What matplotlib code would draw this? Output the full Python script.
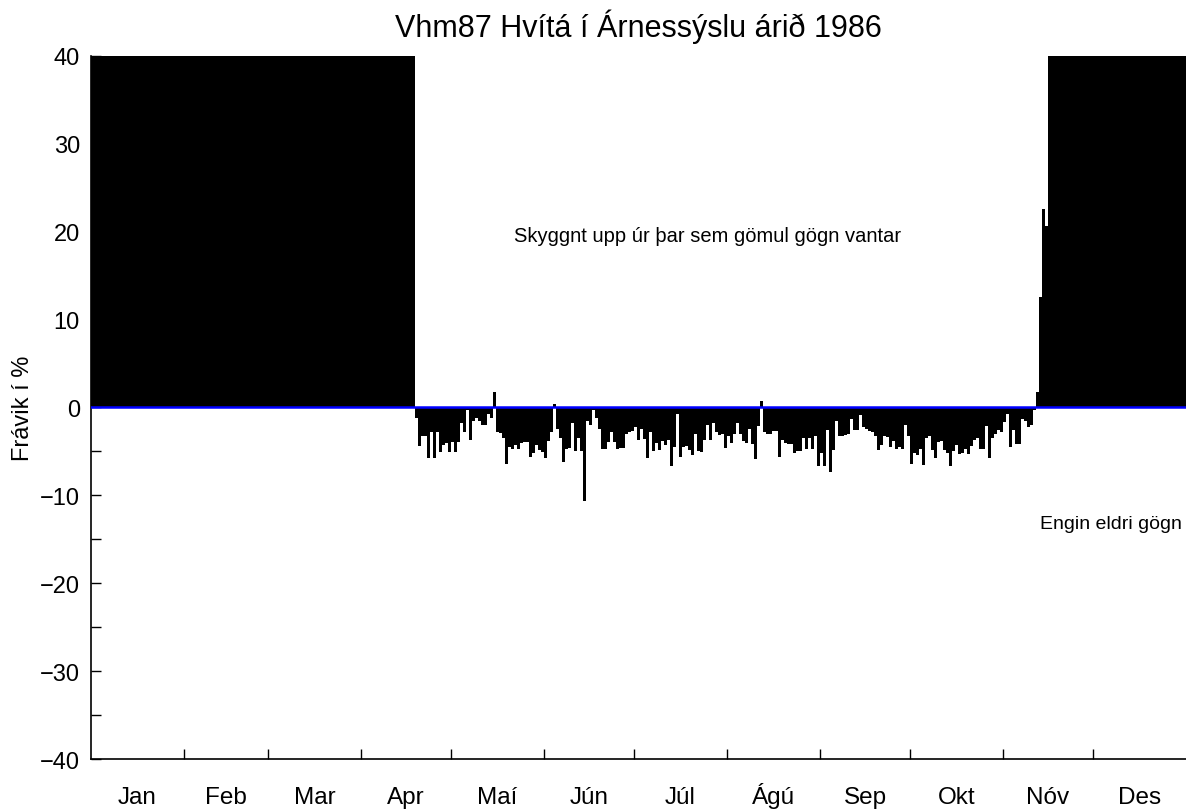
import numpy as np
import matplotlib
matplotlib.use("Agg")
import matplotlib.pyplot as plt

plt.rcParams["font.family"] = ["Liberation Sans", "DejaVu Sans"]

# dagleg frávik (%) frá degi 108 (19. apríl) til dags 318
fyrsti_dagur = 108
fravik = [
    -1.2, -4.4, -3.3, -3.3, -5.7, -2.8, -5.8, -2.8, -5.1, -4.3,
    -4.1, -5.1, -3.9, -5.1, -3.9, -1.8, -2.8, -0.3, -3.7, -1.6,
    -1.2, -1.6, -2.0, -2.0, -0.7, -1.2, 1.7, -2.8, -2.9, -3.5,
    -6.4, -4.5, -4.7, -4.3, -4.7, -4.1, -3.9, -3.9, -5.6, -5.2,
    -4.3, -4.8, -5.1, -5.7, -3.8, -2.8, 0.4, -2.4, -3.5, -6.2,
    -4.7, -4.6, -1.8, -4.9, -3.5, -5.0, -10.6, -1.6, -2.0, -0.3,
    -1.2, -2.4,
    -4.7, -4.7, -3.9, -2.8, -3.9, -4.7, -4.6, -4.6, -3.0, -2.8,
    -2.7, -2.2, -3.7, -2.4, -3.6, -5.7, -2.8, -5.0, -4.1, -4.8,
    -3.8, -4.3, -3.7, -6.7, -4.5, -0.8, -5.6, -4.5, -4.4, -4.8,
    -5.4, -3.0, -5.0, -5.1, -3.7, -2.0, -3.7, -1.8, -2.8, -3.1,
    -3.0, -4.6, -3.3, -4.1, -3.0, -1.8, -3.0, -3.8, -4.1, -2.4,
    -4.2, -5.9, -2.1, 0.7, -2.8, -3.0, -3.0, -2.7, -2.7, -5.6,
    -3.7, -4.1,
    -4.2, -4.2, -5.2, -5.0, -5.0, -3.5, -4.7, -3.5, -4.7, -3.2,
    -6.7, -5.2, -6.7, -2.6, -7.4, -4.8, -1.6, -3.3, -3.2, -3.1,
    -3.0, -1.3, -2.6, -2.6, -0.9, -2.2, -2.4, -2.7, -2.8, -3.2,
    -4.8, -4.3, -3.2, -3.4, -4.5, -3.8, -4.7, -4.5, -4.7, -2.0,
    -3.2, -6.4, -5.2, -5.4, -4.7, -6.6, -3.5, -3.2, -4.8, -5.8,
    -3.9, -3.8, -4.8, -5.2, -6.7, -5.0, -4.3, -5.3, -5.2, -4.7,
    -5.3, -4.4, -3.7, -3.5, -4.7, -4.7, -2.1, -5.7, -3.5, -3.0,
    -2.6, -2.8, -1.7, -0.8, -4.5, -2.6, -4.2, -4.2, -1.3, -1.6,
    -2.2, -2.0, -0.3,
    1.7, 12.6, 22.6, 20.6,
]

manudir = ["Jan", "Feb", "Mar", "Apr", "Maí", "Jún",
           "Júl", "Ágú", "Sep", "Okt", "Nóv", "Des"]
dagar_i_manudi = [31, 28, 31, 30, 31, 30, 31, 31, 30, 31, 30, 31]

dagar = np.arange(365)
gildi = np.full(365, np.nan)
gildi[fyrsti_dagur:fyrsti_dagur + len(fravik)] = fravik
vantar = np.isnan(gildi)

fig = plt.figure(figsize=(11.86, 8.12), dpi=100)
ax = fig.add_axes([0.0767, 0.064, 0.9233, 0.866])

# skyggt upp úr þar sem gögn vantar
ax.bar(dagar[vantar], np.full(vantar.sum(), 60.0), width=1.0, align="edge",
       color="black", linewidth=0, antialiased=False)
ax.bar(dagar[~vantar], gildi[~vantar], width=1.0, align="edge",
       color="black", linewidth=0, antialiased=False)
ax.axhline(0, color="#0000ff", linewidth=1.8, zorder=3)

ax.set_xlim(0, 365)
ax.set_ylim(-40, 40)

skil = np.concatenate([[0], np.cumsum(dagar_i_manudi)])
midjur = (skil[:-1] + skil[1:]) / 2
ax.set_xticks(skil[1:-1])
ax.set_xticklabels([])
ax.set_xticks(midjur, minor=True)
ax.set_xticklabels(manudir, minor=True, va="baseline")
ax.tick_params(axis="x", which="major", direction="in", length=7, width=1)
ax.tick_params(axis="x", which="minor", length=0, pad=32, labelsize=17.5)

ax.set_yticks(np.arange(-40, 41, 10))
ax.set_yticks(np.arange(-35, 40, 10), minor=True)
ax.set_yticklabels([str(v).replace("-", "\u2212") for v in range(-40, 41, 10)])
ax.tick_params(axis="y", which="both", direction="in", length=7, width=1,
               labelsize=17, pad=8)

ax.spines["top"].set_visible(False)
ax.spines["right"].set_visible(False)
ax.spines["left"].set_linewidth(1.2)
ax.spines["bottom"].set_linewidth(1.2)

ax.set_ylabel("Frávik í %", fontsize=17, labelpad=4)
ax.set_title("Vhm87 Hvítá í Árnessýslu árið 1986", fontsize=22, pad=14)

ax.text(141, 19.6, "Skyggnt upp úr þar sem gömul gögn vantar",
        fontsize=14.5, va="center", ha="left")
ax.text(316.3, -13.2, "Engin eldri gögn", fontsize=14, va="center", ha="left")

fig.savefig("out.png", dpi=100)
